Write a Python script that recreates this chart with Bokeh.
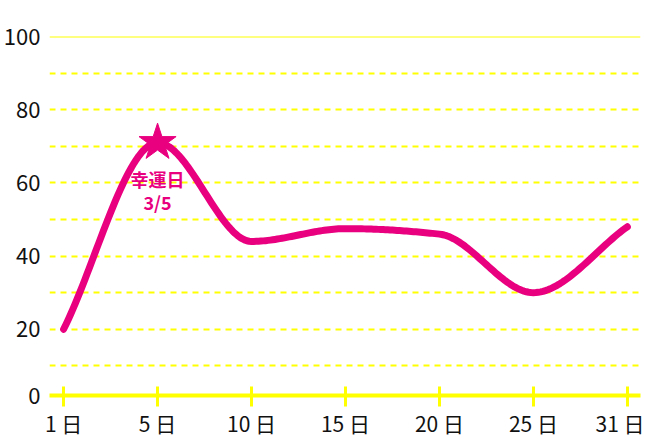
import numpy as np
from bokeh.plotting import figure
from bokeh.models import FixedTicker, Range1d, Span, ColumnDataSource
from bokeh.core.properties import value
from bokeh.embed import file_html
from bokeh.resources import INLINE

# ---- data ----
day_labels = ["1 日", "5 日", "10 日", "15 日", "20 日", "25 日", "31 日"]
luck_values = [20, 71, 44, 47.5, 46, 30, 48]
lucky_index = 1
lucky_text = ["幸運日", "3/5"]
y_tick_values = [20, 40, 60, 80, 100]
y_grid_values = [10, 20, 30, 40, 50, 60, 70, 80, 90]

PINK = "#e8007f"
YELLOW = "#ffff00"
FONT = "Noto Sans CJK JP"

# monotone cubic (Fritsch-Carlson) for a smooth line through the points
def monotone(xs, ys, n=40):
    xs = np.asarray(xs, float); ys = np.asarray(ys, float)
    h = np.diff(xs); d = np.diff(ys) / h
    m = np.zeros_like(ys)
    m[0] = d[0]; m[-1] = d[-1]
    for i in range(1, len(ys) - 1):
        if d[i - 1] * d[i] <= 0:
            m[i] = 0
        else:
            w1 = 2 * h[i] + h[i - 1]; w2 = h[i] + 2 * h[i - 1]
            m[i] = (w1 + w2) / (w1 / d[i - 1] + w2 / d[i])
    ox, oy = [], []
    for i in range(len(xs) - 1):
        t = np.linspace(0, 1, n, endpoint=(i == len(xs) - 2))
        h00 = 2*t**3 - 3*t**2 + 1; h10 = t**3 - 2*t**2 + t
        h01 = -2*t**3 + 3*t**2; h11 = t**3 - t**2
        ox.extend(xs[i] + t * h[i])
        oy.extend(h00*ys[i] + h10*h[i]*m[i] + h01*ys[i+1] + h11*h[i]*m[i+1])
    return ox, oy

xs = list(range(len(day_labels)))
cx, cy = monotone(xs, luck_values)

y_start = 1.9
p = figure(width=644, height=440, output_backend="svg", toolbar_location=None,
           x_range=Range1d(-0.15, 6.14), y_range=Range1d(y_start, 100),
           min_border_left=49, min_border_right=4, min_border_top=36, min_border_bottom=45)
p.outline_line_color = None
p.background_fill_color = "white"

# grid
p.xgrid.visible = False
p.ygrid.ticker = FixedTicker(ticks=y_grid_values)
p.ygrid.grid_line_color = YELLOW
p.ygrid.grid_line_width = 1.8
p.ygrid.grid_line_dash = "6 5"
p.add_layout(Span(location=100, dimension="width", line_color=YELLOW, line_width=2))

# y axis
p.yaxis.ticker = FixedTicker(ticks=[y_start] + y_tick_values)
p.yaxis.major_label_overrides = {y_start: "0"}
p.yaxis.axis_line_color = None
p.yaxis.major_tick_line_color = None
p.yaxis.minor_tick_line_color = None
p.yaxis.major_label_text_font = FONT
p.yaxis.major_label_text_font_size = "22px"
p.yaxis.major_label_text_color = "#111111"
p.yaxis.major_label_standoff = 3

# x axis
p.xaxis.ticker = FixedTicker(ticks=xs)
p.xaxis.major_label_overrides = {i: lab for i, lab in enumerate(day_labels)}
p.xaxis.axis_line_color = YELLOW
p.xaxis.axis_line_width = 4
p.xaxis.major_tick_line_color = YELLOW
p.xaxis.major_tick_line_width = 3
p.xaxis.major_tick_in = 9
p.xaxis.major_tick_out = 11
p.xaxis.minor_tick_line_color = None
p.xaxis.major_label_text_font = FONT
p.xaxis.major_label_text_font_size = "21px"
p.xaxis.major_label_text_color = "#111111"
p.xaxis.major_label_standoff = 1

# curve
p.line(cx, cy, line_color=PINK, line_width=7, line_cap="round", line_join="round")

# lucky day star + text
lx = xs[lucky_index]; ly = luck_values[lucky_index]
p.scatter([lx], [ly], marker="star", size=39, fill_color=PINK, line_color=PINK)
src = ColumnDataSource(dict(x=[lx, lx], y=[ly, ly], t=lucky_text, off=[36, 59]))
p.text(x="x", y="y", text="t", source=src, y_offset="off", text_align="center",
       text_baseline="middle", text_color=PINK, text_font=value(FONT),
       text_font_size="18px", text_font_style="bold")

open("out.html", "w").write(file_html(p, INLINE))
